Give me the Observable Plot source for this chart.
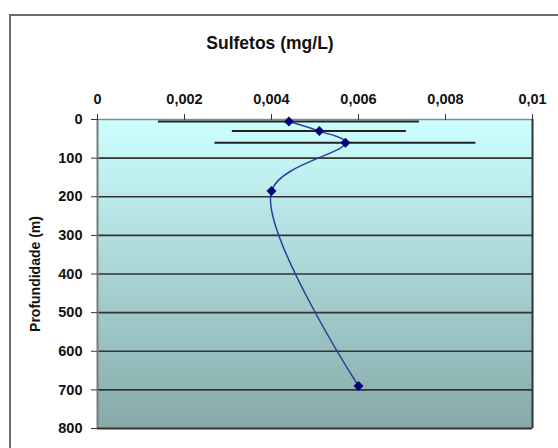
<!DOCTYPE html>
<html>
<head>
<meta charset="utf-8">
<script src="https://cdn.jsdelivr.net/npm/d3@7"></script>
<script src="https://cdn.jsdelivr.net/npm/@observablehq/plot@0.6"></script>
<style>
  html, body { margin: 0; padding: 0; background: #fff; }
  #chart { position: relative; width: 558px; height: 448px; overflow: hidden; background: #fff;
           font-family: "Liberation Sans", Arial, sans-serif; }
  #chart svg { position: absolute; left: 0; top: 0; }
  #title { position: absolute; left: 170px; width: 200px; top: 33px; text-align: center;
           font-weight: bold; font-size: 17.5px; color: #111; }
  #border { position: absolute; left: 9px; top: 14px; width: 600px; height: 500px;
            border: 2px solid #6a6a6a; pointer-events: none; }
</style>
</head>
<body>
<div id="chart">
  <div id="title">Sulfetos (mg/L)</div>
</div>
<script>
// Sulfide concentration (mg/L) by depth (m), with standard deviation
const profundidade = [5, 30, 60, 185, 690];
const sulfetos = [0.0044, 0.0051, 0.0057, 0.0040, 0.0060];
const desvio = [0.0030, 0.0020, 0.0030, 0, 0];

// Axis ticks
const xTicks = [0, 0.002, 0.004, 0.006, 0.008, 0.01];
const yTicks = [0, 100, 200, 300, 400, 500, 600, 700, 800];

const rows = profundidade.map((p, i) => ({prof: p, valor: sulfetos[i], dp: desvio[i]}));
const barras = rows.filter(d => d.dp > 0);
const virgula = d => String(d).replace(".", ",");

// Vertical background gradient for the plotting area
const gradiente = () => {
  const defs = d3.create("svg:defs");
  const g = defs.append("linearGradient")
    .attr("id", "fundo").attr("x1", 0).attr("y1", 0).attr("x2", 0).attr("y2", 1);
  g.append("stop").attr("offset", "0%").attr("stop-color", "#ccffff");
  g.append("stop").attr("offset", "100%").attr("stop-color", "#86a9a9");
  return defs.node();
};

const chart = Plot.plot({
  width: 558,
  height: 448,
  marginLeft: 97,
  marginRight: 26,
  marginTop: 119,
  marginBottom: 20,
  style: {background: "none", fontFamily: "'Liberation Sans', Arial, sans-serif", color: "#111"},
  x: {domain: [0, 0.01], axis: null},
  y: {domain: [0, 800], reverse: true, axis: null},
  marks: [
    gradiente,
    Plot.frame({fill: "url(#fundo)", stroke: null}),
    // horizontal gridlines
    Plot.ruleY(yTicks.filter(v => v > 0 && v < 800), {stroke: "#333", strokeWidth: 1.7}),
    // frame edges
    Plot.ruleY([0], {stroke: "#8a8a8a", strokeWidth: 1.5}),
    Plot.ruleX([0], {stroke: "#7a7a7a", strokeWidth: 2}),
    Plot.ruleX([0.01], {stroke: "#333", strokeWidth: 2}),
    Plot.ruleY([800], {stroke: "#333", strokeWidth: 2}),
    Plot.axisX({
      anchor: "top", ticks: xTicks, tickFormat: virgula, tickSize: 6, tickPadding: 10,
      fontSize: 14.5, fontWeight: "bold", stroke: "#333", label: null
    }),
    Plot.axisY({
      anchor: "left", ticks: yTicks, tickFormat: d => String(d), tickSize: 6, tickPadding: 9,
      fontSize: 14.5, fontWeight: "bold", stroke: "#333",
      label: "Profundidade (m)", labelAnchor: "center", labelOffset: 67, labelArrow: "none"
    }),
    // error bars (± standard deviation)
    Plot.ruleY(barras, {y: "prof", x1: d => d.valor - d.dp, x2: d => d.valor + d.dp,
      stroke: "#222", strokeWidth: 2}),
    Plot.line(rows, {x: "valor", y: "prof", curve: "catmull-rom", stroke: "#2c3d9e", strokeWidth: 1.5}),
    Plot.dot(rows, {x: "valor", y: "prof", symbol: "diamond2", r: 4.5, fill: "#000080", stroke: null})
  ]
});

const box = document.getElementById("chart");
box.appendChild(chart);
const border = document.createElement("div");
border.id = "border";
box.appendChild(border);
// axis label styling
chart.querySelectorAll("[aria-label='y-axis label'] text, [aria-label='y-axis label']").forEach(el => {
  el.setAttribute("font-size", 14);
  el.setAttribute("font-weight", "bold");
});
</script>
</body>
</html>
